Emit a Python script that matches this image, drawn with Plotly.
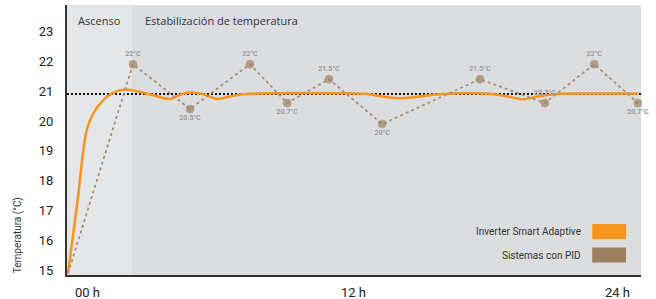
import plotly.graph_objects as go

# --- data ---
orange_h = [0, 0.4, 0.79, 1.07, 1.49, 1.91, 2.4, 3.0, 3.6, 4.29, 4.72, 5.14, 5.68, 6.3, 6.85,
            7.5, 8.5, 10.0, 11.5, 12.6, 13.3, 14.0, 14.7, 15.5, 16.5, 17.6, 18.4, 19.16, 19.9,
            20.7, 22.0, 23.0, 24.0]
orange_t = [15.0, 17.4, 19.8, 20.36, 20.80, 21.05, 21.15, 21.08, 20.96, 20.84, 20.98, 21.05,
            21.0, 20.84, 20.93, 21.0, 21.03, 21.04, 21.03, 21.0, 20.91, 20.86, 20.91, 20.99,
            21.03, 21.02, 20.94, 20.83, 20.94, 21.01, 21.02, 21.02, 21.02]

pid_h = [0, 2.74, 5.14, 7.66, 9.23, 10.99, 13.23, 17.35, 20.08, 22.16, 24.0]
pid_t = [15.0, 22.0, 20.5, 22.0, 20.7, 21.5, 20.0, 21.5, 20.7, 22.0, 20.7]
pid_labels = ["", "22°C", "20.5°C", "22°C", "20.7°C", "21.5°C", "20°C", "21.5°C", "20.7°C", "22°C", "20.7°C"]
pid_label_pos = ["top center", "top center", "bottom center", "top center", "bottom center",
                 "top center", "bottom center", "top center", "top center", "top center",
                 "bottom center"]

setpoint = 21
phase_split = 2.7
x_ticks = ["00 h", "12 h", "24 h"]
y_ticks = [15, 16, 17, 18, 19, 20, 21, 22, 23]
series_names = ["Inverter Smart Adaptive", "Sistemas con PID"]
phase_names = ["Ascenso", "Estabilización de temperatura"]

ORANGE = "#f7941d"
BROWN = "#9c8061"

X0, X1 = -0.04, 24.13
Y0, Y1 = 14.95, 23.98

fig = go.Figure()

# background phases
fig.add_shape(type="rect", xref="x", yref="y", x0=X0, x1=phase_split, y0=Y0, y1=Y1,
              fillcolor="#e5e6e8", line_width=0, layer="below")
fig.add_shape(type="rect", xref="x", yref="y", x0=phase_split, x1=X1, y0=Y0, y1=Y1,
              fillcolor="#dcdddf", line_width=0, layer="below")

# setpoint dotted line
fig.add_trace(go.Scatter(x=[X0, X1], y=[setpoint, setpoint], mode="lines",
                         line=dict(color="#111111", width=2, dash="2px,2px"),
                         hoverinfo="skip", showlegend=False))

# orange curve
fig.add_trace(go.Scatter(x=orange_h, y=orange_t, mode="lines", name=series_names[0],
                         line=dict(color=ORANGE, width=2.5, shape="spline", smoothing=1.0),
                         showlegend=False))

# PID
fig.add_trace(go.Scatter(x=pid_h, y=pid_t, mode="lines+markers+text", name=series_names[1],
                         line=dict(color="#a58f76", width=1.8, dash="3px,3px"),
                         marker=dict(color=BROWN, size=[0] + [8] * (len(pid_h) - 1)),
                         text=pid_labels, textposition=pid_label_pos,
                         textfont=dict(family="Roboto", size=7, color="#9a9a9a", weight="bold"),
                         showlegend=False, cliponaxis=False))

annotations = []
# phase labels
annotations.append(dict(text=phase_names[0], xref="x", yref="paper", x=0.35, y=0.943,
                        xanchor="left", yanchor="middle", showarrow=False,
                        font=dict(family="Open Sans", size=11, color="#333")))
annotations.append(dict(text=phase_names[1], xref="x", yref="paper", x=3.18, y=0.943,
                        xanchor="left", yanchor="middle", showarrow=False,
                        font=dict(family="Open Sans", size=11, color="#333")))
# x tick labels
for txt, xv, anc, sh in zip(x_ticks, [0, 12, 24], ["left", "center", "right"], [5, 1, -6]):
    annotations.append(dict(text=txt, xref="x", yref="paper", x=xv, y=-0.03, xshift=sh,
                            xanchor=anc, yanchor="top", showarrow=False,
                            font=dict(family="Roboto", size=13, color="#222")))
# y axis title
annotations.append(dict(text="Temperatura (°C)", xref="paper", yref="paper", x=-0.085, y=0.0,
                        xanchor="center", yanchor="bottom", textangle=-90, showarrow=False,
                        font=dict(family="Roboto", size=10, color="#333")))

# legend (custom)
leg_y = [0.161, 0.074]
for name, col, yc in zip(series_names, [ORANGE, BROWN], leg_y):
    fig.add_shape(type="rect", xref="paper", yref="paper", x0=0.915, x1=0.974,
                  y0=yc - 0.028, y1=yc + 0.028, fillcolor=col, line_width=0)
    annotations.append(dict(text=name, xref="paper", yref="paper", x=0.899, y=yc,
                            xanchor="right", yanchor="middle", showarrow=False,
                            font=dict(family="Roboto", size=10, color="#333")))

fig.update_layout(
    width=656, height=299,
    margin=dict(l=67, r=15, t=5, b=24),
    paper_bgcolor="white", plot_bgcolor="#dcdddf",
    annotations=annotations,
    xaxis=dict(range=[X0, X1], showgrid=False, zeroline=False, showticklabels=False,
               showline=True, linecolor="#333", linewidth=2, ticks=""),
    yaxis=dict(range=[Y0, Y1], showgrid=False, zeroline=False, tickvals=y_ticks,
               ticks="", showline=True, linecolor="#333", linewidth=2, ticklabelstandoff=9,
               ticklabelshift=-3,
               tickfont=dict(family="Roboto", size=13, color="#222")),
    showlegend=False,
)

fig.write_html("out.html", config={"displayModeBar": False},
               post_script="document.body.style.margin='0';document.body.style.overflow='hidden';")
